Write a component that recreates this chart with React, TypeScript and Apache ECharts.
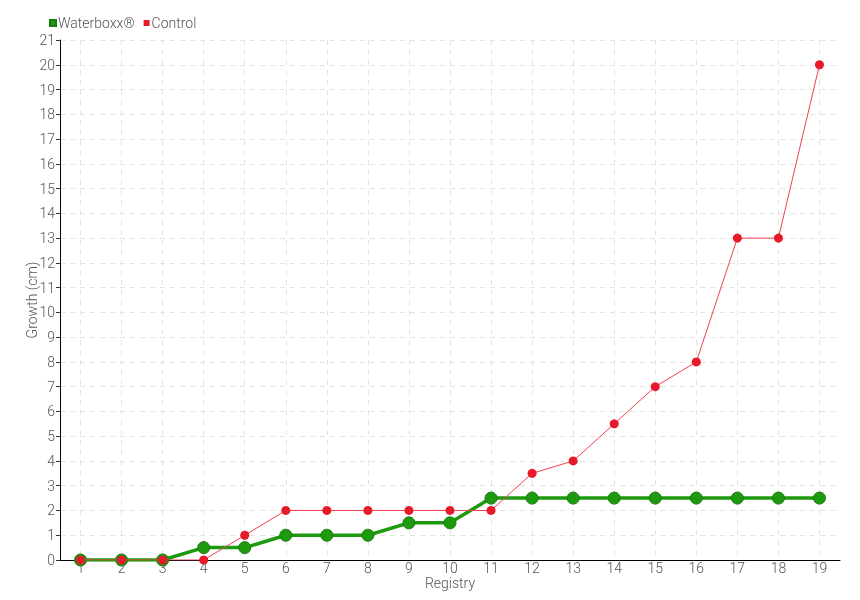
import React, { useEffect, useRef } from "react";
import * as echarts from "echarts";

const categories = ["1","2","3","4","5","6","7","8","9","10","11","12","13","14","15","16","17","18","19"];
const waterboxx = [0,0,0,0.5,0.5,1,1,1,1.5,1.5,2.5,2.5,2.5,2.5,2.5,2.5,2.5,2.5,2.5];
const control = [0,0,0,0,1,2,2,2,2,2,2,3.5,4,5.5,7,8,13,13,20];
const seriesNames = ["Waterboxx®", "Control"];

const FONT = "Roboto, 'Liberation Sans Narrow', sans-serif";

export default function App() {
  const ref = useRef<HTMLDivElement>(null);
  useEffect(() => {
    const chart = echarts.init(ref.current!, null, { renderer: "svg" });
    chart.setOption({
      animation: false,
      textStyle: { fontFamily: FONT },
      legend: {
        left: 44,
        top: 11,
        itemWidth: 6,
        itemHeight: 6,
        itemGap: 9,
        icon: "rect",
        textStyle: { color: "#555", fontSize: 14, fontWeight: 300, fontFamily: FONT, padding: [0, 0, 0, -3] },
        data: seriesNames,
      },
      grid: { left: 60, right: 20, top: 40, bottom: 40, containLabel: false },
      xAxis: {
        type: "category",
        data: categories,
        boundaryGap: true,
        name: "Registry",
        nameLocation: "middle",
        nameGap: 16,
        nameMoveOverlap: false,
        nameTextStyle: { color: "#555", fontSize: 14, fontWeight: 300, fontFamily: FONT },
        axisLine: { lineStyle: { color: "#000", width: 1 } },
        axisTick: { alignWithLabel: true, length: 4, lineStyle: { color: "#555" } },
        axisLabel: { color: "#555", fontSize: 14, fontWeight: 300, fontFamily: FONT, margin: 1 },
        splitLine: { show: true, alignWithLabel: true, lineStyle: { color: "#e3e3e3", type: [5, 5] } },
      },
      yAxis: {
        type: "value",
        min: 0,
        max: 21,
        interval: 1,
        name: "Growth (cm)",
        nameLocation: "middle",
        nameGap: 21,
        nameMoveOverlap: false,
        nameTextStyle: { color: "#555", fontSize: 14, fontWeight: 300, fontFamily: FONT },
        axisLine: { show: true, lineStyle: { color: "#000", width: 1 } },
        axisTick: { show: true, length: 4, lineStyle: { color: "#333" } },
        axisLabel: { color: "#555", fontSize: 14, fontWeight: 300, fontFamily: FONT, margin: 5 },
        splitLine: { show: true, lineStyle: { color: "#e3e3e3", type: [5, 5] } },
      },
      series: [
        {
          name: seriesNames[0],
          type: "line",
          data: waterboxx,
          color: "#1e9a0f",
          symbol: "circle",
          symbolSize: 12,
          lineStyle: { width: 3.5, color: "#1e9a0f" },
          itemStyle: { color: "#1e9a0f", borderColor: "#187a0c", borderWidth: 1 },
          z: 2,
        },
        {
          name: seriesNames[1],
          type: "line",
          data: control,
          color: "#e81a2a",
          symbol: "circle",
          symbolSize: 9,
          lineStyle: { width: 1, color: "#f0404f" },
          itemStyle: { color: "#e81a2a" },
          z: 3,
        },
      ],
    });
    return () => chart.dispose();
  }, []);
  return <div ref={ref} style={{ width: 860, height: 600, position: "fixed", left: 0, top: 0 }} />;
}
